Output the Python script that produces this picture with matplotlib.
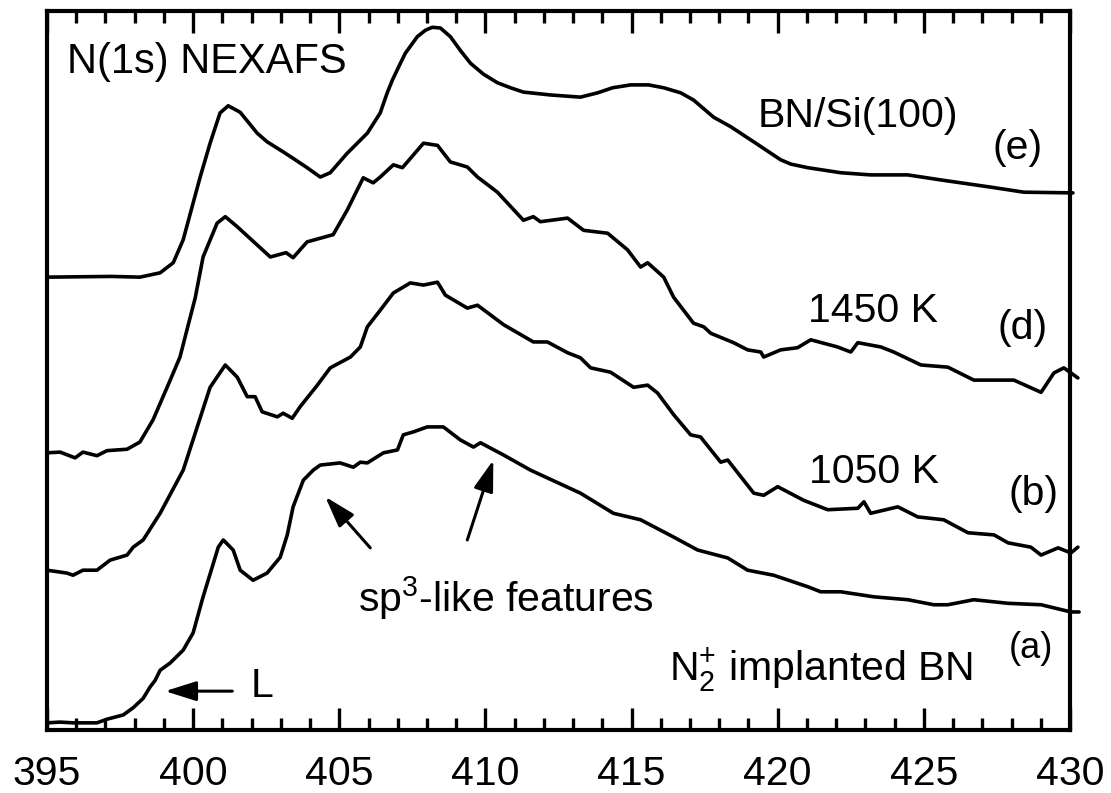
import matplotlib
matplotlib.use("Agg")
import matplotlib.pyplot as plt
from matplotlib.ticker import MultipleLocator

plt.rcParams["font.family"] = ["Liberation Sans", "DejaVu Sans"]
plt.rcParams["mathtext.fontset"] = "custom"
plt.rcParams["mathtext.rm"] = "Liberation Sans"
plt.rcParams["mathtext.it"] = "Liberation Sans"
plt.rcParams["mathtext.bf"] = "Liberation Sans:bold"

# Photon energy (eV) and N(1s) NEXAFS intensity (arb. units, stacked offsets)
energy_e = [395.00, 397.20, 398.18, 398.87, 399.32, 399.66, 400.00, 400.24, 400.58,
            400.92, 401.20, 401.61, 402.19, 402.53, 403.08, 403.42, 403.90, 404.35,
            404.69, 405.27, 405.96, 406.40, 406.64, 406.82, 407.09, 407.26, 407.67,
            407.95, 408.18, 408.46, 408.80, 409.14, 409.49, 409.93, 410.41, 410.86,
            411.30, 412.23, 413.25, 413.84, 414.35, 414.97, 415.58, 416.10, 416.68,
            417.12, 417.81, 418.39, 419.25, 420.10, 420.45, 421.03, 422.16, 423.18,
            424.45, 425.58, 427.29, 428.42, 430.10]
signal_e = [6.29, 6.30, 6.29, 6.35, 6.49, 6.81, 7.32, 7.68, 8.15,
            8.57, 8.67, 8.58, 8.29, 8.17, 8.03, 7.94, 7.81, 7.68,
            7.74, 8.01, 8.29, 8.57, 8.85, 9.03, 9.26, 9.40, 9.63,
            9.72, 9.76, 9.75, 9.63, 9.44, 9.26, 9.11, 8.99, 8.92,
            8.86, 8.82, 8.79, 8.85, 8.92, 8.96, 8.96, 8.92, 8.85,
            8.75, 8.51, 8.38, 8.15, 7.92, 7.86, 7.81, 7.74, 7.71,
            7.71, 7.64, 7.54, 7.47, 7.46]

energy_d = [395.00, 395.45, 395.96, 396.23, 396.71, 397.05, 397.74, 398.18, 398.63,
            399.11, 399.55, 399.79, 400.07, 400.34, 400.82, 401.10, 401.51, 402.64,
            403.18, 403.42, 403.90, 404.79, 405.27, 405.82, 406.16, 406.40, 406.85,
            407.16, 407.88, 408.36, 408.80, 409.38, 409.73, 410.41, 411.30, 411.64,
            411.88, 412.81, 413.36, 414.18, 414.86, 415.31, 415.55, 416.10, 416.44,
            417.12, 417.47, 417.71, 418.49, 418.97, 419.42, 419.52, 420.10, 420.68,
            421.13, 422.05, 422.50, 422.74, 423.53, 423.97, 424.90, 425.82, 426.71,
            428.08, 429.01, 429.45, 429.79, 430.27]
signal_d = [3.85, 3.86, 3.78, 3.86, 3.81, 3.88, 3.90, 4.00, 4.31,
            4.76, 5.18, 5.56, 6.00, 6.57, 7.04, 7.13, 6.99, 6.57,
            6.63, 6.56, 6.78, 6.88, 7.22, 7.67, 7.60, 7.68, 7.85,
            7.81, 8.15, 8.12, 7.89, 7.82, 7.68, 7.47, 7.08, 7.13,
            7.06, 7.11, 6.94, 6.90, 6.67, 6.43, 6.49, 6.29, 6.01,
            5.65, 5.60, 5.51, 5.38, 5.28, 5.25, 5.18, 5.28, 5.31,
            5.42, 5.32, 5.25, 5.38, 5.32, 5.25, 5.07, 5.04, 4.86,
            4.86, 4.69, 4.96, 5.03, 4.89]

energy_b = [395.00, 395.68, 395.89, 396.23, 396.71, 397.16, 397.74, 397.95, 398.29,
            398.87, 399.66, 400.14, 400.58, 401.10, 401.51, 401.85, 402.12, 402.36,
            402.88, 403.08, 403.39, 403.66, 404.25, 404.69, 405.38, 405.72, 405.96,
            406.40, 406.85, 407.43, 407.88, 408.36, 408.63, 409.38, 409.73, 410.62,
            411.64, 412.12, 412.81, 413.25, 413.60, 414.28, 415.07, 415.55, 415.89,
            416.44, 417.02, 417.36, 418.05, 418.29, 419.18, 419.52, 420.00, 420.89,
            421.71, 422.74, 422.95, 423.18, 424.11, 424.79, 425.68, 426.51, 427.40,
            427.88, 428.66, 429.01, 429.59, 430.03, 430.27]
signal_b = [2.22, 2.18, 2.15, 2.22, 2.22, 2.36, 2.43, 2.54, 2.64,
            3.01, 3.61, 4.21, 4.76, 5.07, 4.90, 4.63, 4.63, 4.42,
            4.35, 4.40, 4.33, 4.49, 4.79, 5.03, 5.18, 5.32, 5.60,
            5.83, 6.07, 6.21, 6.18, 6.22, 6.04, 5.86, 5.90, 5.63,
            5.39, 5.39, 5.24, 5.17, 5.03, 4.97, 4.76, 4.79, 4.68,
            4.38, 4.10, 4.07, 3.72, 3.75, 3.29, 3.26, 3.38, 3.19,
            3.06, 3.08, 3.17, 3.01, 3.10, 2.96, 2.92, 2.74, 2.71,
            2.60, 2.54, 2.43, 2.53, 2.46, 2.54]

energy_a = [395.00, 395.45, 395.89, 396.71, 397.05, 397.61, 397.95, 398.29, 398.53,
            398.70, 398.87, 399.21, 399.66, 400.00, 400.34, 400.65, 400.86, 401.03,
            401.37, 401.61, 402.05, 402.53, 402.98, 403.22, 403.42, 403.77, 404.11,
            404.35, 405.03, 405.48, 405.72, 405.96, 406.51, 406.99, 407.19, 407.53,
            408.01, 408.56, 409.14, 409.59, 409.83, 410.62, 411.54, 413.25, 414.38,
            415.31, 416.44, 417.26, 418.29, 418.97, 419.86, 421.03, 421.47, 422.16,
            423.29, 424.45, 425.34, 425.82, 426.71, 427.88, 429.01, 430.03, 430.31]
signal_a = [0.10, 0.11, 0.10, 0.10, 0.15, 0.21, 0.31, 0.44, 0.60,
            0.69, 0.83, 0.93, 1.11, 1.35, 1.85, 2.26, 2.54, 2.64,
            2.50, 2.22, 2.08, 2.18, 2.40, 2.71, 3.10, 3.47, 3.61,
            3.68, 3.71, 3.65, 3.72, 3.71, 3.85, 3.89, 4.10, 4.14,
            4.21, 4.21, 4.03, 3.93, 3.99, 3.82, 3.61, 3.29, 3.01,
            2.92, 2.68, 2.50, 2.39, 2.22, 2.15, 1.99, 1.92, 1.92,
            1.85, 1.81, 1.74, 1.74, 1.81, 1.76, 1.74, 1.64, 1.64]

tick_values = [395, 400, 405, 410, 415, 420, 425, 430]

fig = plt.figure(figsize=(11.11, 7.93), dpi=100)
ax = fig.add_axes([0.0423, 0.0794, 0.9208, 0.9067])

for xs, ys in [(energy_e, signal_e), (energy_d, signal_d),
               (energy_b, signal_b), (energy_a, signal_a)]:
    ax.plot(xs, ys, color="black", lw=2.6, solid_joinstyle="round",
            solid_capstyle="round", clip_on=False, zorder=3)

ax.set_xlim(395, 430)
ax.set_ylim(0, 9.986)
ax.set_xticks(tick_values)
ax.set_xticklabels([str(v) for v in tick_values])
ax.xaxis.set_minor_locator(MultipleLocator(1))
ax.set_yticks([])
ax.tick_params(axis="x", which="both", direction="in", top=True, bottom=True,
               width=2.4, labelsize=29.5, pad=18)
ax.tick_params(axis="x", which="major", length=16)
ax.tick_params(axis="x", which="minor", length=8.5)
for sp in ax.spines.values():
    sp.set_linewidth(3.0)

fs = 29.5
ax.text(395.68, 9.13, "N(1s) NEXAFS", fontsize=30, ha="left", va="baseline")
ax.text(419.32, 8.38, "BN/Si(100)", fontsize=fs, ha="left", va="baseline")
ax.text(427.36, 7.93, "(e)", fontsize=fs, ha="left", va="baseline")
ax.text(421.03, 5.67, "1450 K", fontsize=fs, ha="left", va="baseline")
ax.text(427.53, 5.43, "(d)", fontsize=fs, ha="left", va="baseline")
ax.text(421.06, 3.43, "1050 K", fontsize=fs, ha="left", va="baseline")
ax.text(427.91, 3.13, "(b)", fontsize=fs, ha="left", va="baseline")
ax.text(405.65, 1.64, r"sp$^\mathregular{3}$-like features", fontsize=fs,
        ha="left", va="baseline")
ax.text(416.27, 0.69, r"N$_\mathregular{2}^\mathregular{+}$ implanted BN",
        fontsize=fs, ha="left", va="baseline")
ax.text(427.91, 1.00, "(a)", fontsize=26, ha="left", va="baseline")
ax.text(401.95, 0.46, "L", fontsize=fs, ha="left", va="baseline")

arrow_style = dict(arrowstyle="-|>,head_length=0.95,head_width=0.3",
                   mutation_scale=20, color="black", lw=2.2,
                   shrinkA=0, shrinkB=0)
ax.annotate("", xy=(399.04, 0.54), xytext=(401.34, 0.54), arrowprops=arrow_style)
ax.annotate("", xy=(404.52, 3.24), xytext=(406.06, 2.53), arrowprops=arrow_style)
ax.annotate("", xy=(410.27, 3.75), xytext=(409.38, 2.64), arrowprops=arrow_style)

fig.savefig("out.png", dpi=100, facecolor="white")
